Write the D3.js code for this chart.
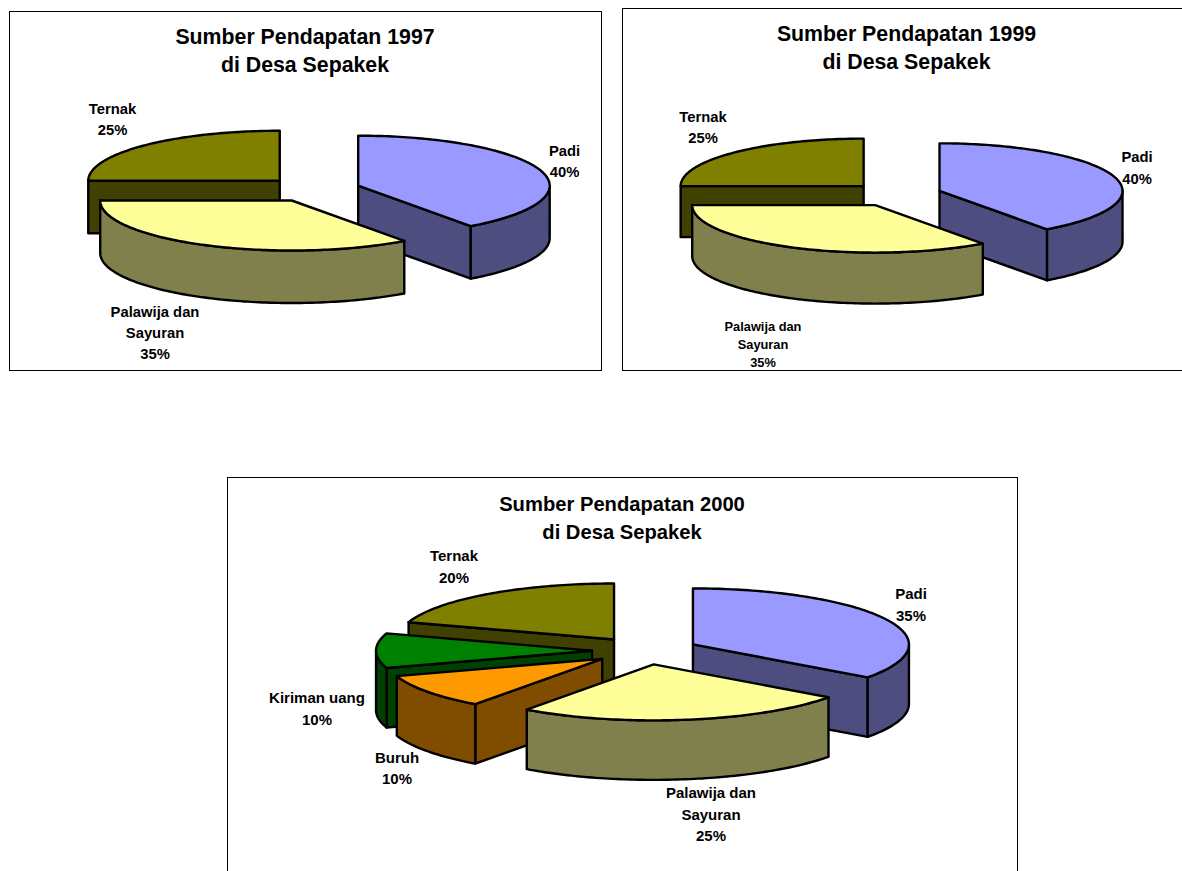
<!DOCTYPE html>
<html>
<head>
<meta charset="utf-8">
<script src="https://cdn.jsdelivr.net/npm/d3@7"></script>
<style>
body { margin: 0; background: #fff; }
svg { display: block; }
text { font-family: "Liberation Sans", Arial, sans-serif; font-weight: bold; fill: #000; text-anchor: middle; }
</style>
</head>
<body>
<svg width="1182" height="871"></svg>
<script>
// data
const categories1997 = ['Padi', 'Palawija dan Sayuran', 'Ternak'];
const values1997 = [40, 35, 25];
const categories1999 = ['Padi', 'Palawija dan Sayuran', 'Ternak'];
const values1999 = [40, 35, 25];
const categories2000 = ['Padi', 'Palawija dan Sayuran', 'Buruh', 'Kiriman uang', 'Ternak'];
const values2000 = [35, 25, 10, 10, 20];

const topColor = d3.scaleOrdinal()
	.domain(['Padi', 'Palawija dan Sayuran', 'Ternak', 'Kiriman uang', 'Buruh'])
	.range(['#9999FF', '#FFFF99', '#808000', '#008000', '#FF9900']);
const sideColor = d3.scaleOrdinal()
	.domain(['Padi', 'Palawija dan Sayuran', 'Ternak', 'Kiriman uang', 'Buruh'])
	.range(['#4D4D80', '#80804D', '#404000', '#004000', '#804C00']);

const svg = d3.select('svg');
const pie = d3.pie().sort(null).value(d => d.value);
const line = d3.line().curve(d3.curveLinear);
const TAU = Math.PI * 2;

function drawChart(c) {
	// frame
	svg.append('rect')
		.attr('x', c.frame[0]).attr('y', c.frame[1])
		.attr('width', c.frame[2]).attr('height', c.frame[3])
		.attr('fill', '#fff').attr('stroke', '#000').attr('stroke-width', 1);

	// title
	c.title.forEach((t, i) => {
		svg.append('text')
			.attr('x', c.titleX).attr('y', c.titleY + i * 28)
			.attr('font-size', c.titleSize).text(t);
	});

	// unit circle -> page
	const x = d3.scaleLinear().domain([-1, 1]).range([c.cx - c.rx, c.cx + c.rx]);
	const y = d3.scaleLinear().domain([-1, 1]).range([c.cy - c.ry, c.cy + c.ry]);

	const data = c.categories.map((name, i) => ({ name: name, value: c.values[i] }));
	const slices = pie(data).map(d => {
		d.mid = (d.startAngle + d.endAngle) / 2;
		d.ox = Math.sin(d.mid) * c.explode;
		d.oy = -Math.cos(d.mid) * c.explode;
		return d;
	});
	// back slices first
	slices.sort((a, b) => Math.cos(b.mid) - Math.cos(a.mid));

	slices.forEach(d => {
		const rimPt = (a, drop) => [x(d.ox + Math.sin(a)), y(d.oy - Math.cos(a)) + drop];
		const apex = drop => [x(d.ox), y(d.oy) + drop];
		const arcPts = (a0, a1, drop) => {
			const n = Math.max(2, Math.ceil((a1 - a0) / 0.02));
			return d3.range(n + 1).map(i => rimPt(a0 + (a1 - a0) * i / n, drop));
		};
		const g = svg.append('g')
			.attr('stroke', '#000').attr('stroke-width', 2.4)
			.attr('stroke-linejoin', 'round');

		// cut faces that look toward the viewer
		if (Math.sin(d.endAngle) > 0.001) {
			g.append('path')
				.attr('d', line([apex(0), rimPt(d.endAngle, 0), rimPt(d.endAngle, c.depth), apex(c.depth)]) + 'Z')
				.attr('fill', sideColor(d.data.name));
		}
		if (Math.sin(d.startAngle) < -0.001) {
			g.append('path')
				.attr('d', line([apex(0), rimPt(d.startAngle, 0), rimPt(d.startAngle, c.depth), apex(c.depth)]) + 'Z')
				.attr('fill', sideColor(d.data.name));
		}

		// outer wall, front half only
		const a0 = Math.max(d.startAngle, TAU / 4);
		const a1 = Math.min(d.endAngle, TAU * 3 / 4);
		if (a1 > a0) {
			g.append('path')
				.attr('d', line(arcPts(a0, a1, 0).concat(arcPts(a0, a1, c.depth).reverse())) + 'Z')
				.attr('fill', sideColor(d.data.name));
		}

		// top
		g.append('path')
			.attr('d', line([apex(0)].concat(arcPts(d.startAngle, d.endAngle, 0))) + 'Z')
			.attr('fill', topColor(d.data.name));
	});

	// labels
	c.labels.forEach(l => {
		l.lines.forEach((t, i) => {
			svg.append('text')
				.attr('x', l.x).attr('y', l.y + i * l.step)
				.attr('font-size', l.size).text(t);
		});
	});
}

drawChart({
	frame: [9.5, 11.5, 592, 359],
	title: ['Sumber Pendapatan 1997', 'di Desa Sepakek'],
	titleX: 305, titleY: 44, titleSize: 21.3,
	categories: categories1997, values: values1997,
	cx: 313.2, cy: 189.5, rx: 191.5, ry: 50, depth: 52.5, explode: 0.247,
	labels: [
		{ lines: ['Ternak', '25%'], x: 112.5, y: 114, step: 21, size: 14.8 },
		{ lines: ['Padi', '40%'], x: 564.5, y: 156, step: 21, size: 14.8 },
		{ lines: ['Palawija dan', 'Sayuran', '35%'], x: 155, y: 317, step: 21, size: 14.8 }
	]
});

drawChart({
	frame: [622.5, 8.5, 600, 362],
	title: ['Sumber Pendapatan 1999', 'di Desa Sepakek'],
	titleX: 906.5, titleY: 41, titleSize: 21.3,
	categories: categories1999, values: values1999,
	cx: 896, cy: 194.5, rx: 183, ry: 47.5, depth: 51, explode: 0.25,
	labels: [
		{ lines: ['Ternak', '25%'], x: 703, y: 122, step: 21, size: 14.8 },
		{ lines: ['Padi', '40%'], x: 1137, y: 162, step: 21.5, size: 14.8 },
		{ lines: ['Palawija dan', 'Sayuran', '35%'], x: 763, y: 331, step: 18, size: 12.8 }
	]
});

drawChart({
	frame: [227.5, 477.5, 790, 420],
	title: ['Sumber Pendapatan 2000', 'di Desa Sepakek'],
	titleX: 622, titleY: 511, titleSize: 20.2,
	categories: categories2000, values: values2000,
	cx: 645.4, cy: 650.7, rx: 216, ry: 56, depth: 59.5, explode: 0.247,
	labels: [
		{ lines: ['Ternak', '20%'], x: 454, y: 561, step: 21.5, size: 15 },
		{ lines: ['Padi', '35%'], x: 911, y: 599, step: 22, size: 15 },
		{ lines: ['Kiriman uang', '10%'], x: 317, y: 703, step: 22, size: 15 },
		{ lines: ['Buruh', '10%'], x: 397, y: 763, step: 21, size: 15 },
		{ lines: ['Palawija dan', 'Sayuran', '25%'], x: 711, y: 798, step: 21.5, size: 15 }
	]
});
</script>
</body>
</html>
